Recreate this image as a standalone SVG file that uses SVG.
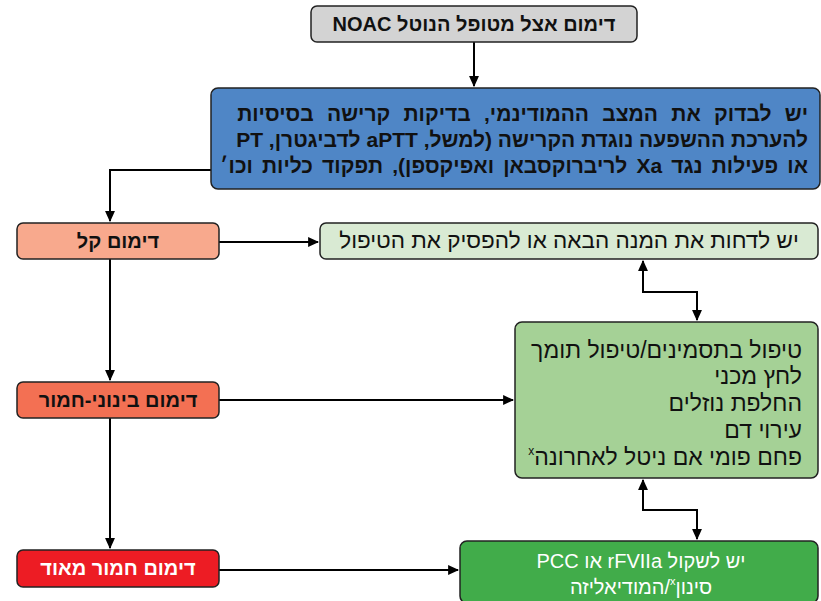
<svg xmlns="http://www.w3.org/2000/svg" width="821" height="601" viewBox="0 0 821 601">
<defs>
<marker id="ah" viewBox="0 0 10 10" refX="9" refY="5" markerWidth="11" markerHeight="11" markerUnits="userSpaceOnUse" orient="auto-start-reverse"><path d="M0,0.5 L10,5 L0,9.5 Z" fill="#000"/></marker>
<style>
.box{stroke:#222;stroke-width:1.5}
text{font-family:"Liberation Sans","DejaVu Sans",sans-serif;fill:#111;direction:rtl;unicode-bidi:embed}
.b{font-weight:bold;font-size:20px}
.r{font-size:21px}
.w{fill:#fff}
.g{font-size:23px}
.c{stroke:#000;stroke-width:2;fill:none}
</style>
</defs>
<rect width="821" height="601" fill="#fff"/>
<g id="connectors">
<path class="c" d="M474,42 V86" marker-end="url(#ah)"/>
<path class="c" d="M211,170 H110 V221" marker-end="url(#ah)"/>
<path class="c" d="M219,242 H318" marker-end="url(#ah)"/>
<path class="c" d="M110,259 V380" marker-end="url(#ah)"/>
<path class="c" d="M219,400 H513" marker-end="url(#ah)"/>
<path class="c" d="M110,418 V548" marker-end="url(#ah)"/>
<path class="c" d="M219,570 H458" marker-end="url(#ah)"/>
<path class="c" d="M643,261 V292 H697 V320" marker-start="url(#ah)" marker-end="url(#ah)"/>
<path class="c" d="M643,480 V510 H697 V539" marker-start="url(#ah)" marker-end="url(#ah)"/>
</g>
<g id="start">
<rect class="box" x="311" y="6" width="326" height="36" rx="6" fill="#d3d3d3"/>
<text class="b" x="474" y="31" text-anchor="middle">דימום אצל מטופל הנוטל NOAC</text>
</g>
<g id="assess">
<rect class="box" x="211" y="88" width="609" height="101" rx="7" fill="#4f86c6"/>
<text class="b" x="808" y="121" text-anchor="start" style="font-size:21px;word-spacing:7.5px">יש לבדוק את המצב ההמודינמי, בדיקות קרישה בסיסיות</text>
<text class="b" x="808" y="147" text-anchor="start" style="font-size:21px">להערכת ההשפעה נוגדת הקרישה (למשל, aPTT לדביגטרן, PT</text>
<text class="b" x="808" y="173" text-anchor="start" style="font-size:21px;word-spacing:3.3px">או פעילות נגד Xa לריברוקסבאן ואפיקספן), תפקוד כליות וכו׳</text>
</g>
<g id="mild">
<rect class="box" x="17" y="223" width="202" height="36" rx="6" fill="#f8a98d"/>
<text class="b" x="118" y="248" text-anchor="middle">דימום קל</text>
</g>
<g id="delay">
<rect class="box" x="320" y="223" width="498" height="36" rx="6" fill="#d9ead3"/>
<text class="r" x="569" y="248" text-anchor="middle" style="font-size:22.5px">יש לדחות את המנה הבאה או להפסיק את הטיפול</text>
</g>
<g id="moderate">
<rect class="box" x="17" y="382" width="202" height="36" rx="6" fill="#f37053"/>
<text class="b" x="118" y="407" text-anchor="middle">דימום בינוני-חמור</text>
</g>
<g id="support">
<rect class="box" x="515" y="322" width="303" height="156" rx="7" fill="#a5d196"/>
<text class="g" x="802" y="358" text-anchor="start">טיפול בתסמינים/טיפול תומך</text>
<text class="g" x="802" y="384" text-anchor="start">לחץ מכני</text>
<text class="g" x="802" y="411" text-anchor="start">החלפת נוזלים</text>
<text class="g" x="802" y="438" text-anchor="start">עירוי דם</text>
<text class="g" x="802" y="465" text-anchor="start">פחם פומי אם ניטל לאחרונה<tspan font-size="12" dy="-10">x</tspan></text>
</g>
<g id="severe">
<rect class="box" x="17" y="550" width="202" height="37" rx="6" fill="#ed1c24"/>
<text class="b w" x="118" y="575" text-anchor="middle">דימום חמור מאוד</text>
</g>
<g id="reversal">
<rect class="box" x="460" y="541" width="358" height="62" rx="7" fill="#41ac4a"/>
<text class="r w" x="641" y="568" text-anchor="middle" style="font-size:20px">יש לשקול rFVIIa או PCC</text>
<text class="r w" x="641" y="594" text-anchor="middle" style="font-size:20px">סינון<tspan font-size="11" dy="-9">x</tspan><tspan dy="9">/המודיאליזה</tspan></text>
</g>
</svg>
